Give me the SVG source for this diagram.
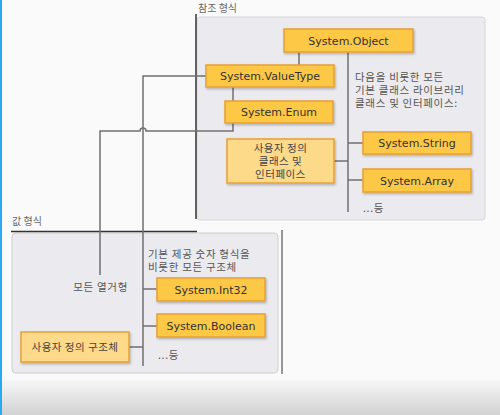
<svg xmlns="http://www.w3.org/2000/svg" width="500" height="415" viewBox="0 0 500 415">
<defs>
<linearGradient id="bot" x1="0" y1="0" x2="0" y2="1">
<stop offset="0" stop-color="#f7f7f7"/>
<stop offset="1" stop-color="#d2d2d2"/>
</linearGradient>
<filter id="sh" x="-10%" y="-10%" width="130%" height="140%">
<feDropShadow dx="1" dy="1.5" stdDeviation="1" flood-color="#000" flood-opacity="0.25"/>
</filter>
<style>
.box{fill:#fcc844;stroke:#e9a033;stroke-width:1.5;filter:url(#sh)}
.lbox{fill:#fdd98a;stroke:#e9a033;stroke-width:1.5;filter:url(#sh)}
.bt{font-family:"DejaVu Sans",Verdana,sans-serif;font-size:11px;fill:#333;text-anchor:middle}
.kt{font-family:"Noto Sans CJK KR","Noto Sans",sans-serif;font-size:10.5px;letter-spacing:0.7px;fill:#555}
.kc{font-family:"Noto Sans CJK KR","Noto Sans",sans-serif;font-size:10.5px;letter-spacing:0.5px;fill:#444;text-anchor:middle}
.hd{font-family:"Noto Sans CJK KR","Noto Sans",sans-serif;font-size:10px;fill:#666}
.ln{fill:none;stroke:#707070;stroke-width:1.5}
.dk{fill:none;stroke:#333;stroke-width:1.5}
</style>
</defs>
<rect width="500" height="415" fill="#fafafa"/>
<rect x="0" y="380" width="500" height="35" fill="url(#bot)"/>
<rect x="0" y="0" width="2" height="415" fill="#2aa8f0"/>

<g id="ref-panel">
<rect x="197" y="17" width="288" height="203" rx="3" fill="#ebebef" stroke="#d6d6da"/>
<line class="dk" x1="196" y1="14" x2="196" y2="219"/>
<text class="hd" x="198" y="12">참조 형식</text>
</g>
<g id="val-panel">
<rect x="12" y="233" width="266" height="140" rx="4" fill="#ebebef" stroke="#cfcfd3"/>
<line class="dk" x1="11" y1="231.5" x2="197" y2="231.5"/>
<line x1="282" y1="230" x2="282" y2="374" stroke="#555" stroke-width="1.2"/>
<text class="hd" x="12" y="225">값 형식</text>
</g>

<g id="connectors">
<line class="ln" x1="299" y1="52" x2="299" y2="65"/>
<line class="ln" x1="348" y1="52" x2="348" y2="212"/>
<line class="ln" x1="348" y1="143" x2="363" y2="143"/>
<line class="ln" x1="348" y1="180" x2="363" y2="180"/>
<line class="ln" x1="334" y1="161" x2="348" y2="161"/>
<line class="ln" x1="233" y1="87" x2="233" y2="101"/>
<path class="ln" d="M206 76 H143 V366"/>
<path class="ln" d="M233 123 V131 H146 A3 3 0 0 0 140 131 H100 V275"/>
<line class="ln" x1="143" y1="289" x2="157" y2="289"/>
<line class="ln" x1="143" y1="326" x2="157" y2="326"/>
<line class="ln" x1="129" y1="347" x2="143" y2="347"/>
</g>

<g id="n-object"><rect class="box" x="284" y="29" width="129" height="23"/><text class="bt" x="348.5" y="44.5">System.Object</text></g>
<g id="n-valuetype"><rect class="box" x="206" y="65" width="128" height="22"/><text class="bt" x="270" y="80">System.ValueType</text></g>
<g id="n-enum"><rect class="box" x="225" y="101" width="108" height="22"/><text class="bt" x="279" y="116">System.Enum</text></g>
<g id="n-userclass"><rect class="lbox" x="227" y="139" width="107" height="44"/>
<text class="kc" x="280.5" y="152">사용자 정의</text><text class="kc" x="280.5" y="165">클래스 및</text><text class="kc" x="280.5" y="178">인터페이스</text></g>
<g id="n-string"><rect class="box" x="363" y="132" width="108" height="22"/><text class="bt" x="417" y="147">System.String</text></g>
<g id="n-array"><rect class="box" x="363" y="169" width="108" height="23"/><text class="bt" x="417" y="184.5">System.Array</text></g>
<g id="t-ref-note"><text class="kt" x="355" y="81">다음을 비롯한 모든</text><text class="kt" x="355" y="94">기본 클래스 라이브러리</text><text class="kt" x="355" y="107">클래스 및 인터페이스:</text></g>
<g id="t-ref-etc"><text class="kt" x="363" y="212">...등</text></g>

<g id="n-int32"><rect class="box" x="157" y="278" width="108" height="23"/><text class="bt" x="211" y="293.5">System.Int32</text></g>
<g id="n-boolean"><rect class="box" x="157" y="314" width="108" height="23"/><text class="bt" x="211" y="329.5">System.Boolean</text></g>
<g id="n-userstruct"><rect class="lbox" x="21" y="332" width="108" height="30"/><text class="kc" x="75" y="351">사용자 정의 구조체</text></g>
<g id="t-enums"><text class="kt" x="128" y="291" text-anchor="end">모든 열거형</text></g>
<g id="t-val-note"><text class="kt" x="148" y="258">기본 제공 숫자 형식을</text><text class="kt" x="148" y="271">비롯한 모든 구조체</text></g>
<g id="t-val-etc"><text class="kt" x="158" y="359">...등</text></g>
</svg>
